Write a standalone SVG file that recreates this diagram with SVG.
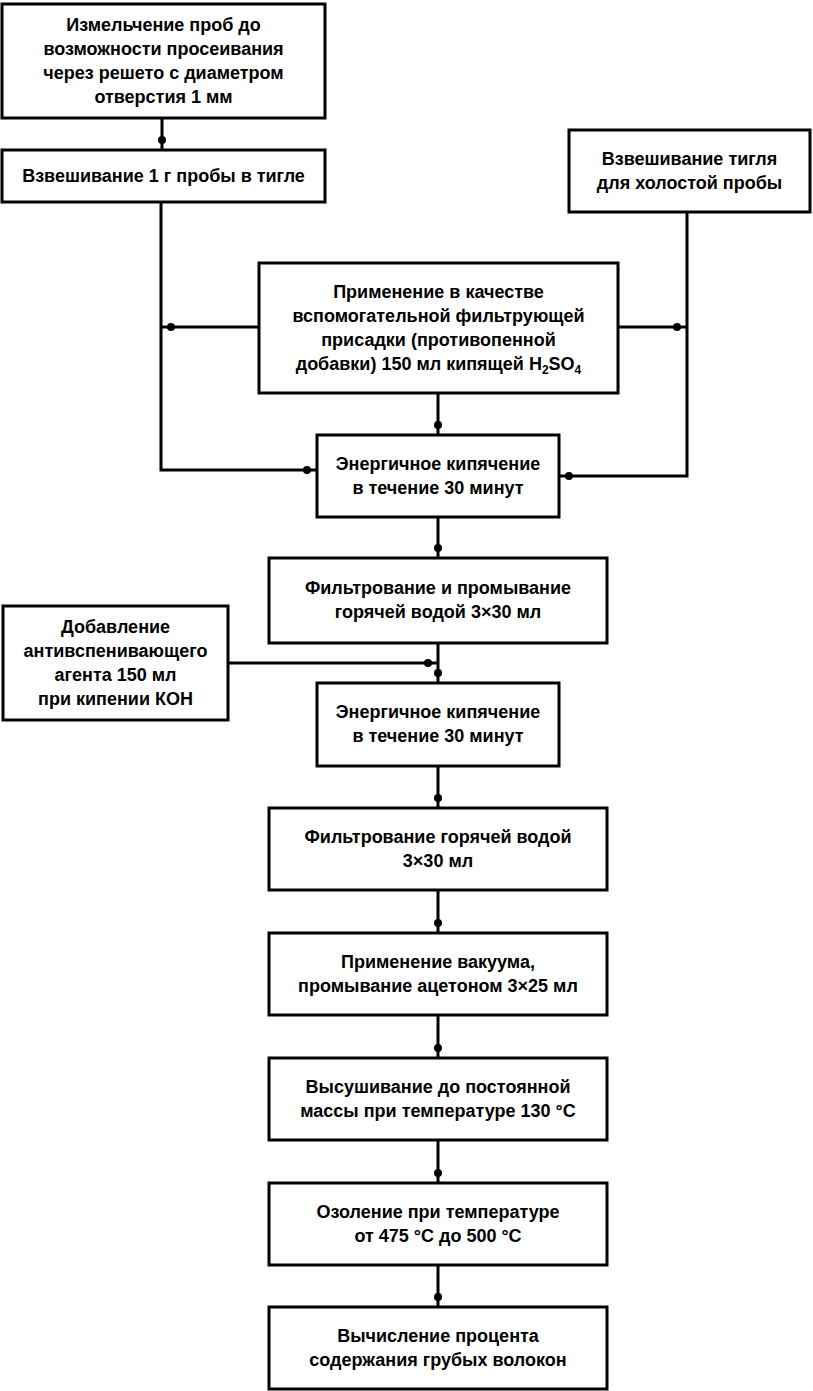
<svg xmlns="http://www.w3.org/2000/svg" width="813" height="1391" viewBox="0 0 813 1391">
<style>
.box{fill:#fff;stroke:#000;stroke-width:3}
.t{font-family:"Liberation Sans",Arial,sans-serif;font-size:18px;font-weight:bold;fill:#000;text-anchor:middle}
.c{fill:none;stroke:#000;stroke-width:3}
</style>
<defs>
<marker id="dot" markerUnits="userSpaceOnUse" markerWidth="10" markerHeight="10" refX="10" refY="0" orient="auto" overflow="visible">
<circle cx="0" cy="0" r="4" fill="#000"/>
</marker>
</defs>
<rect width="813" height="1391" fill="#fff"/>
<g id="connectors">
<path class="c" d="M162 118V150" marker-end="url(#dot)"/>
<path class="c" d="M161 202V470H317" marker-end="url(#dot)"/>
<path class="c" d="M687 212V476H559" marker-end="url(#dot)"/>
<path class="c" d="M259 327H161" marker-end="url(#dot)"/>
<path class="c" d="M618 327H687" marker-end="url(#dot)"/>
<path class="c" d="M438 393V435" marker-end="url(#dot)"/>
<path class="c" d="M438 517V558" marker-end="url(#dot)"/>
<path class="c" d="M438 643V683" marker-end="url(#dot)"/>
<path class="c" d="M228 663H438" marker-end="url(#dot)"/>
<path class="c" d="M438 766V808" marker-end="url(#dot)"/>
<path class="c" d="M438 890V933" marker-end="url(#dot)"/>
<path class="c" d="M438 1015V1058" marker-end="url(#dot)"/>
<path class="c" d="M438 1140V1183" marker-end="url(#dot)"/>
<path class="c" d="M438 1265V1307" marker-end="url(#dot)"/>
</g>
<g id="n1"><rect class="box" x="2" y="4" width="323" height="114"/>
<text class="t" x="163.5" y="31">Измельчение проб до</text>
<text class="t" x="163.5" y="55">возможности просеивания</text>
<text class="t" x="163.5" y="79">через решето с диаметром</text>
<text class="t" x="163.5" y="103">отверстия 1 мм</text></g>
<g id="n2"><rect class="box" x="2" y="150" width="323" height="52"/>
<text class="t" x="163.5" y="182">Взвешивание 1 г пробы в тигле</text></g>
<g id="n3"><rect class="box" x="569" y="130" width="241" height="82"/>
<text class="t" x="689.5" y="165">Взвешивание тигля</text>
<text class="t" x="689.5" y="189">для холостой пробы</text></g>
<g id="n4"><rect class="box" x="259" y="263" width="359" height="130"/>
<text class="t" x="438.5" y="298">Применение в качестве</text>
<text class="t" x="438.5" y="322">вспомогательной фильтрующей</text>
<text class="t" x="438.5" y="346">присадки (противопенной</text>
<text class="t" x="438.5" y="370">добавки) 150 мл кипящей H<tspan font-size="12" dy="4">2</tspan><tspan dy="-4">SO</tspan><tspan font-size="12" dy="4">4</tspan></text></g>
<g id="n5"><rect class="box" x="317" y="435" width="242" height="82"/>
<text class="t" x="438" y="470">Энергичное кипячение</text>
<text class="t" x="438" y="494">в течение 30 минут</text></g>
<g id="n6"><rect class="box" x="269" y="558" width="338" height="85"/>
<text class="t" x="438" y="594">Фильтрование и промывание</text>
<text class="t" x="438" y="618">горячей водой 3×30 мл</text></g>
<g id="n7"><rect class="box" x="3" y="606" width="225" height="114"/>
<text class="t" x="115.5" y="633">Добавление</text>
<text class="t" x="115.5" y="657">антивспенивающего</text>
<text class="t" x="115.5" y="681">агента 150 мл</text>
<text class="t" x="115.5" y="705">при кипении КОН</text></g>
<g id="n8"><rect class="box" x="317" y="683" width="242" height="83"/>
<text class="t" x="438" y="718">Энергичное кипячение</text>
<text class="t" x="438" y="742">в течение 30 минут</text></g>
<g id="n9"><rect class="box" x="269" y="808" width="338" height="82"/>
<text class="t" x="438" y="843">Фильтрование горячей водой</text>
<text class="t" x="438" y="867">3×30 мл</text></g>
<g id="n10"><rect class="box" x="269" y="933" width="338" height="82"/>
<text class="t" x="438" y="968">Применение вакуума,</text>
<text class="t" x="438" y="992">промывание ацетоном 3×25 мл</text></g>
<g id="n11"><rect class="box" x="269" y="1058" width="338" height="82"/>
<text class="t" x="438" y="1093">Высушивание до постоянной</text>
<text class="t" x="438" y="1117">массы при температуре 130 °С</text></g>
<g id="n12"><rect class="box" x="269" y="1183" width="338" height="82"/>
<text class="t" x="438" y="1218">Озоление при температуре</text>
<text class="t" x="438" y="1242">от 475 °С до 500 °С</text></g>
<g id="n13"><rect class="box" x="269" y="1307" width="338" height="82"/>
<text class="t" x="438" y="1342">Вычисление процента</text>
<text class="t" x="438" y="1366">содержания грубых волокон</text></g>
</svg>
